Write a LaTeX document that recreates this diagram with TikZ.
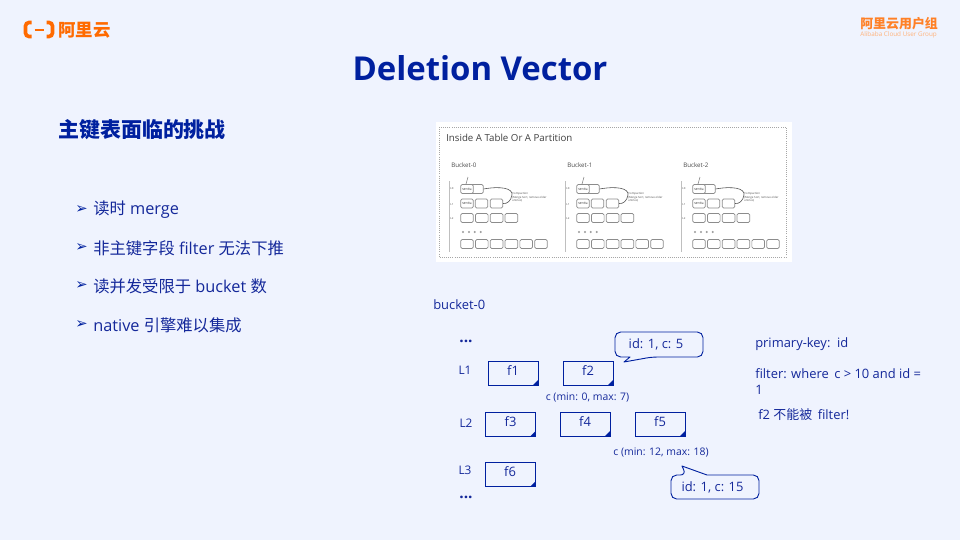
\documentclass[tikz,border=0pt]{standalone}
\usepackage{fontspec}
\setmainfont{Open Sans}
\newfontfamily\cjk{Noto Sans CJK SC}
\newfontfamily\symfont{DejaVu Sans}
\definecolor{slidebg}{HTML}{EFF3FE}
\definecolor{deepblue}{HTML}{00209F}
\definecolor{inkblue}{HTML}{14289A}
\definecolor{aliorange}{HTML}{FF6A00}
\definecolor{softorange}{HTML}{FFB27A}
\definecolor{sstgray}{HTML}{8C8C8C}
\tikzset{
  bullet/.style={anchor=west,text=inkblue,font=\fontsize{11.6}{14}\selectfont,inner sep=0pt},
  bulletmark/.style={anchor=west,text=deepblue,font=\symfont\fontsize{10.5}{12}\selectfont,inner sep=0pt},
  plain/.style={text=inkblue,font=\fontsize{9.2}{12}\selectfont,inner sep=0pt},
  small/.style={text=inkblue,font=\fontsize{7.4}{10}\selectfont,inner sep=0pt},
  level/.style={text=inkblue,font=\fontsize{8.4}{10}\selectfont,inner sep=0pt},
  filebox/.style={draw=deepblue,line width=0.65pt,minimum width=35.5pt,minimum height=17pt,inner sep=0pt,
    text=inkblue,font=\fontsize{9.2}{12}\selectfont,text depth=4pt,
    path picture={\fill[deepblue] (path picture bounding box.south east) -- ++(-3.5pt,0) -- ++(3.5pt,3.5pt) -- cycle;}},
  sst/.style={draw=sstgray,rounded corners=1pt,line width=0.5pt,minimum width=9pt,minimum height=6.4pt,inner sep=0pt,fill=white},
  tiny/.style={text=black!70,font=\fontsize{2}{2.6}\selectfont,inner sep=0pt},
  callout/.style={draw=deepblue,line width=0.65pt,fill=slidebg,line join=round}
}
\begin{document}
\begin{tikzpicture}[x=0.025cm,y=-0.025cm]
%background
\fill[slidebg] (0,0) rectangle (960,540);
\useasboundingbox (0,0) rectangle (960,540);
%logo left
\draw[aliorange,line width=2.6pt,rounded corners=2.5pt] (31.5,22.5) -- (25.5,22.5) -- (25.5,36.5) -- (31.5,36.5);
\draw[aliorange,line width=2.6pt,rounded corners=2.5pt] (46.5,22.5) -- (52.5,22.5) -- (52.5,36.5) -- (46.5,36.5);
\draw[aliorange,line width=1.3pt] (34.5,30) -- (43.5,30);
\node[anchor=west,inner sep=0pt,text=aliorange,font=\cjk\fontsize{12.4}{14}\selectfont\bfseries] (logotext) at (58,30) {阿里云};
%logo right
\node[anchor=west,inner sep=0pt,text=aliorange!85,font=\cjk\fontsize{9.2}{11}\selectfont\bfseries] (grouptext) at (860,24) {阿里云用户组};
\node[anchor=west,inner sep=0pt,text=softorange,font=\fontsize{4.5}{6}\selectfont] (groupsub) at (860,35) {Alibaba Cloud User Group};
%title
\node[text=deepblue,inner sep=0pt,font=\fontsize{23.4}{30}\selectfont\bfseries] (title) at (480,68) {Deletion Vector};
\node[anchor=west,inner sep=0pt,text=deepblue,font=\cjk\fontsize{14.9}{18}\selectfont\bfseries] (heading) at (58,130) {主键表面临的挑战};
%bullet list
\node[bulletmark] (mark1) at (75,210) {➢};
\node[bullet] (item1) at (93,210) {{\cjk 读时} merge};
\node[bulletmark] (mark2) at (75,248) {➢};
\node[bullet] (item2) at (93,248) {{\cjk 非主键字段} filter {\cjk 无法下推}};
\node[bulletmark] (mark3) at (75,286) {➢};
\node[bullet] (item3) at (93,286) {{\cjk 读并发受限于} bucket {\cjk 数}};
\node[bulletmark] (mark4) at (75,325) {➢};
\node[bullet] (item4) at (93,325) {native {\cjk 引擎难以集成}};
%table sketch
\fill[white] (436,122) rectangle (792,262);
\draw[gray!70,densely dotted,line width=0.5pt] (439,127) rectangle (786,257);
\node[anchor=west,inner sep=0pt,text=black!75,font=\fontsize{6.9}{9}\selectfont] (tablehead) at (446,138) {Inside A Table Or A Partition};
\foreach \bx/\bn in {0/0,116/1,232/2}{
  \begin{scope}[xshift=\bx*0.025cm]
    \node[anchor=west,inner sep=0pt,text=black!70,font=\fontsize{4.4}{6}\selectfont] (bucket\bn) at (451,165) {Bucket-\bn};
    \draw[gray!50,line width=0.4pt] (450,181) -- (449,181) -- (449,251) -- (450,251);
    \node[tiny] (lz\bn) at (452,188) {L0};
    \node[tiny] (la\bn) at (452,204) {L1};
    \node[tiny] (lb\bn) at (452,218) {L2};
    %level 0
    \node[sst] (zb\bn) at (477,189) {};
    \node[sst,font=\fontsize{2}{2}\selectfont] (za\bn) at (467,189) {SST file};
    \draw[gray,line width=0.4pt] (468,177) -- (466,184);
    %level 1
    \node[sst,font=\fontsize{2}{2}\selectfont] (aa\bn) at (467,203.5) {SST file};
    \node[sst] (ab\bn) at (481.5,203.5) {};
    \node[sst] (ac\bn) at (496.5,203.5) {};
    %level 2
    \foreach \c in {0,1,2,3}{
      \node[sst] (b\c\bn) at (467+\c*14.8,218) {};
    }
    \foreach \c in {0,1,2,3}{
      \fill[gray!80] (463+\c*5.9,232) circle (0.8pt);
    }
    %last level
    \foreach \c in {0,1,2,3,4,5}{
      \node[sst] (d\c\bn) at (467+\c*14.8,244) {};
    }
    %compaction
    \draw[black!70,line width=0.4pt] (zb\bn.east) .. controls (500,186) and (513,188) .. (512,195)
      .. controls (511,201) and (507,204) .. (ac\bn.east);
    \node[tiny,anchor=north west,align=left] (note\bn) at (512,192) {Compaction\\(Merge Sort, remove older\\entries)};
  \end{scope}
}
%levels
\node[plain,anchor=west] (bucket) at (433,305) {bucket-0};
\node[plain,font=\fontsize{11}{12}\selectfont\bfseries] (dotstop) at (466,341) {...};
\node[level] (lone) at (465,370) {L1};
\node[level] (ltwo) at (466,423) {L2};
\node[level] (lthree) at (465,470) {L3};
\node[plain,font=\fontsize{11}{12}\selectfont\bfseries] (dotsend) at (466,497) {...};
%files
\node[filebox] (fone) at (513,373) {f1};
\node[filebox] (ftwo) at (588,373) {f2};
\node[filebox] (fthree) at (510.5,424) {f3};
\node[filebox] (ffour) at (585,424) {f4};
\node[filebox] (ffive) at (660,424) {f5};
\node[filebox,minimum height=17.5pt] (fsix) at (510,474.5) {f6};
%ranges
\node[small] (rangeone) at (587.5,397) {c (min: 0, max: 7)};
\node[small] (rangetwo) at (661,452) {c (min: 12, max: 18)};
%callouts
\draw[callout] (624,362) -- (630,357) [rounded corners=4pt] -- (615,357) -- (615,332) -- (703,332) -- (703,357) -- (652,357) [sharp corners] -- cycle;
\node[plain] (idone) at (656,344.5) {id: 1, c: 5};
\draw[callout] (682,466) -- (707,475) [rounded corners=4pt] -- (759,475) -- (759,499) -- (671,499) -- (671,475) -- (686,475) [sharp corners] -- cycle;
\node[plain] (idtwo) at (712.5,487) {id: 1, c: 15};
%notes
\node[plain,anchor=west] (pkey) at (755,344) {primary-key:\, id};
\node[plain,anchor=west] (filterone) at (755,374) {filter: where\, c > 10 and id =};
\node[plain,anchor=west] (filtertwo) at (755,390) {1};
\node[plain,anchor=west] (notpass) at (758,415) {f2 {\cjk 不能被}\, filter!};
\end{tikzpicture}
\end{document}
